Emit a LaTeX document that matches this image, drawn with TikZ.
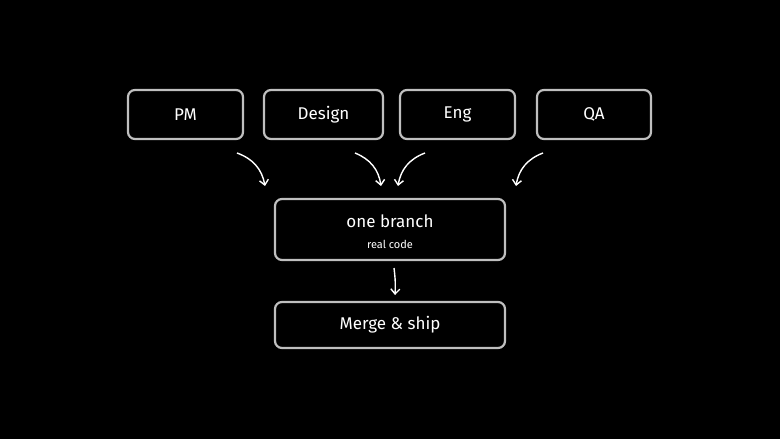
\documentclass[tikz,border=0pt]{standalone}
\usepackage{fontspec}
\setmainfont{Fira Sans}
\begin{document}
\begin{tikzpicture}[x=1pt,y=-1pt,
  box/.style={draw=black!25!white,line width=2.2pt,rounded corners=7pt,text=white,font=\fontsize{17}{20}\selectfont,inner sep=0pt,anchor=center},
  arr/.style={draw=white,line width=1.4pt,-{Straight Barb[length=5pt,width=9pt]}}]
\usetikzlibrary{arrows.meta}
\fill[black] (0,0) rectangle (780,439);
\useasboundingbox (0,0) rectangle (780,439);
\node[box,minimum width=115pt,minimum height=49pt] (pm) at (185.5,114.5) {PM};
\node[box,minimum width=119pt,minimum height=49pt] (design) at (323.5,114.5) {Design};
\node[box,minimum width=115pt,minimum height=49pt] (eng) at (457.5,114.5) {Eng};
\node[box,minimum width=114pt,minimum height=49pt] (qa) at (594,114.5) {QA};
\node[box,minimum width=230pt,minimum height=61pt] (branch) at (390,229.5) {};
\node[text=white,font=\fontsize{17}{20}\selectfont] (bt) at (390,221) {one branch};
\node[text=white,font=\fontsize{11}{13}\selectfont] (bs) at (390,244) {real code};
\node[box,minimum width=230pt,minimum height=46pt] (merge) at (390,325) {Merge \& ship};
\coordinate (a1) at (237,153); \coordinate (b1) at (265,186);
\coordinate (a2) at (355,153); \coordinate (b2) at (381,186);
\coordinate (a3) at (425,153); \coordinate (b3) at (398,186);
\coordinate (a4) at (543,153); \coordinate (b4) at (516,186);
\coordinate (a5) at (394,268); \coordinate (b5) at (395,295);
\draw[arr] (a1) to[bend left=30] (b1);
\draw[arr] (a2) to[bend left=30] (b2);
\draw[arr] (a3) to[bend right=30] (b3);
\draw[arr] (a4) to[bend right=30] (b4);
\draw[arr] (a5) to[bend left=5] (b5);
\end{tikzpicture}
\end{document}
